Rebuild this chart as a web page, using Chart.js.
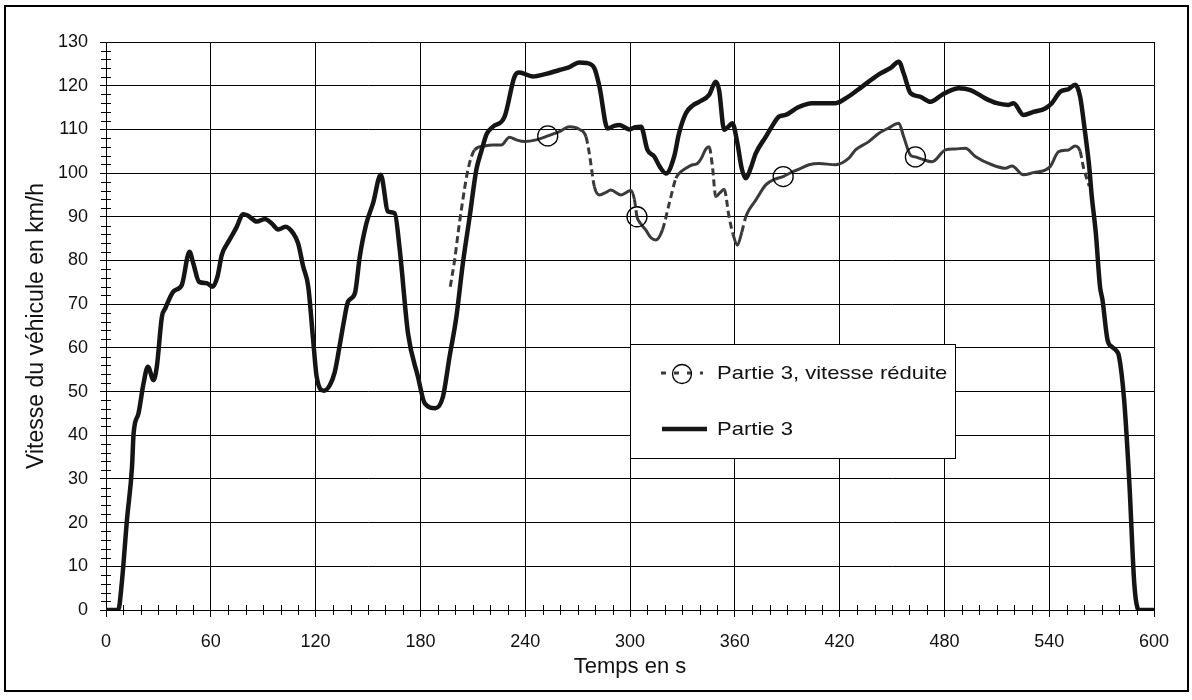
<!DOCTYPE html>
<html>
<head>
<meta charset="utf-8">
<script src="https://cdn.jsdelivr.net/npm/chart.js@4"></script>
<style>
  html, body { margin: 0; padding: 0; background: #fff; }
  #wrap { width: 1192px; height: 700px; position: relative; }
</style>
</head>
<body>
<div id="wrap"><canvas id="myChart" width="1192" height="700"></canvas></div>
<script>
// Partie 3 (solid)
const timeFull = [0, 7, 9, 12, 14.9, 15.8, 18.6, 21.5, 24, 27.2, 29.1, 32, 33.9, 38.6, 43.4, 47.8, 50, 53.3, 57.7, 61.1,
  63.8, 66.3, 70.1, 74.5, 78.6, 81.5, 86.3, 91, 94.8, 98.6, 102.8, 107.2, 110, 112.9, 115.8, 118.6, 120.6, 124.7, 128.2, 131,
  134, 136, 138.6, 142.5, 145.3, 149.1, 152.9, 157.3, 161.5, 165.3, 168.2, 172.9, 178.6, 182.5, 188.7, 192.9, 196.7, 200.6, 204.3, 208.2,
  212, 214.9, 218, 221.5, 228.2, 233.9, 236.7, 244.3, 252, 259.6, 265, 271, 275, 279.6, 282.5, 287.2, 291, 294, 299.6, 303,
  306.3, 310, 313.9, 317, 320.6, 325.3, 328, 332, 336, 339.6, 345.3, 349.1, 351, 353.9, 356, 358.6, 361.5, 364, 366.3, 369,
  372, 377.7, 381, 385.3, 389.1, 396, 404.3, 417.7, 425, 432.9, 442.5, 449, 453.9, 456.7, 460.6, 466, 472, 478.6, 484, 488.2,
  494.9, 503.4, 510, 516.7, 519.6, 525.3, 531, 537.7, 541.5, 546.3, 551, 554.9, 557.7, 560.6, 562.9, 564.3, 566.7, 569.1, 570.5, 573.4,
  576, 578.1, 580, 582.9, 585.9, 588.7, 590.5, 591.6, 600];
const speedFull = [0, 0, 6, 20.6, 32.8, 40.4, 45, 51.9, 55.7, 52.6, 55.7, 67.1, 69, 72.9, 74.4, 82, 79.3, 75.1, 74.8, 74,
  76.3, 81.3, 84.3, 87.4, 90.6, 90.2, 88.9, 89.5, 88.5, 87.1, 87.7, 86.2, 83.9, 78.6, 74, 61.8, 53.4, 50.2, 51.5, 54.5,
  61, 65.6, 70.6, 72.5, 80.9, 88.5, 93.1, 99.6, 91.2, 90.8, 82.4, 63.3, 53.4, 47.3, 46.2, 48.8, 58, 67.1, 79.3, 90,
  100.7, 105, 109, 110.6, 112.9, 122.1, 123, 122.1, 122.7, 123.6, 124.2, 125.3, 125.2, 124, 119.8, 110.2, 110.8, 111, 110, 110.5,
  110.6, 105.3, 103.8, 101.5, 99.9, 103.8, 109, 113.7, 115.5, 116.3, 117.9, 120.9, 119, 109.9, 110.5, 111.4, 106.8, 101, 98.8, 101,
  104.5, 108.3, 110.5, 112.9, 113.3, 115, 116, 116, 117.5, 119.8, 122.6, 124, 125.5, 122.8, 118.3, 117.5, 116.3, 117.9, 119, 119.4,
  119, 117.1, 116, 115.6, 116, 113.3, 114, 114.8, 116, 118.6, 119.2, 120.2, 117.5, 109.1, 101.5, 95, 86.2, 74, 71, 61.8,
  60.2, 59.5, 58, 48.1, 29, 6.1, 0.5, 0, 0];

// Partie 3, vitesse réduite (dashed, circle markers)
const timeReduced = [197.1, 199.6, 201.5, 203.4, 207.2, 211, 216.7, 221.5, 226.3, 231, 234.9, 239.6, 246.3, 252.9, 259.6, 265.3, 271, 274.8, 276.7, 279.6,
  282.5, 286, 289, 294.8, 300.5, 302.5, 304, 306, 309, 312, 314.8, 318.6, 322.5, 326.3, 328.1, 332, 335.8, 338.6, 341, 343.4,
  345.3, 347.2, 349.1, 351.5, 353.9, 356.7, 359, 361.5, 364, 366.3, 368.2, 372, 377.7, 383, 387.7, 393, 396.8, 402.5, 408.2, 417.7,
  425.3, 429.1, 436.7, 442.5, 448, 453.9, 456.7, 460.6, 463.4, 467, 473, 480.6, 486, 492, 497.7, 507.2, 514.9, 518.7, 525.3, 531,
  537.7, 540.6, 545.4, 551.1, 554.9, 557.7, 559.5, 562.9];
const speedReduced = [74, 80.1, 86, 91.5, 100.7, 105.3, 106.2, 106.4, 106.4, 108.2, 107.6, 107.2, 107.6, 108.5, 109.5, 110.6, 110, 108.3, 104.5, 96.9,
  95, 95.5, 96.1, 95, 96, 94, 90, 88.5, 87, 85.2, 84.7, 87, 93.1, 98.8, 99.9, 101.1, 101.9, 102.2, 103.5, 105.5,
  106, 101.5, 94.6, 95.5, 96.3, 90, 86, 83.5, 86.5, 90, 91.6, 93.8, 97.3, 98.6, 99.2, 100.3, 100.9, 101.9, 102.2, 101.9,
  103.4, 105.3, 107.2, 109.1, 110.3, 111.4, 108.3, 104.1, 103.7, 103.2, 102.6, 105.3, 105.5, 105.7, 103.8, 101.9, 101.1, 101.6, 99.6, 100.1,
  100.7, 101.5, 104.9, 105.3, 106.2, 105, 101.5, 97];
const markerTimes = [252.9, 304, 387.7, 463.4];

const xTicks = [0, 60, 120, 180, 240, 300, 360, 420, 480, 540, 600];
const yTicks = [0, 10, 20, 30, 40, 50, 60, 70, 80, 90, 100, 110, 120, 130];

const FONT = 'Arial, "Liberation Sans", sans-serif';

function steep(ctx) {
  const dt = ctx.p1.parsed.x - ctx.p0.parsed.x;
  const dv = ctx.p1.parsed.y - ctx.p0.parsed.y;
  return Math.abs(dv / dt) > 1.2;
}

const frame = {
  id: 'frame',
  beforeDraw(chart) {
    const c = chart.ctx;
    c.save();
    c.fillStyle = '#fff';
    c.fillRect(0, 0, chart.width, chart.height);
    c.restore();
  },
  afterDraw(chart) {
    const c = chart.ctx;
    const xs = chart.scales.x, ys = chart.scales.y;
    const ca = chart.chartArea;
    c.save();
    // minor ticks crossing the axes
    c.strokeStyle = '#000';
    c.lineWidth = 1;
    c.beginPath();
    for (let t = 0; t <= 600; t += 10) {
      if (t % 60 === 0) continue;
      const px = Math.round(xs.getPixelForValue(t)) + 0.5;
      c.moveTo(px, ca.bottom - 5);
      c.lineTo(px, ca.bottom + 5);
    }
    for (let v = 0; v <= 130; v += 2) {
      if (v % 10 === 0) continue;
      const py = Math.round(ys.getPixelForValue(v)) + 0.5;
      c.moveTo(ca.left - 5, py);
      c.lineTo(ca.left + 5, py);
    }
    c.stroke();

    // legend
    const lx = 630.5, ly = 344.5, lw = 325, lh = 114;
    c.fillStyle = '#fff';
    c.fillRect(lx, ly, lw, lh);
    c.strokeStyle = '#000';
    c.lineWidth = 1;
    c.strokeRect(lx, ly, lw, lh);

    const dsR = chart.data.datasets[0];
    const dsF = chart.data.datasets[1];
    c.strokeStyle = dsR.borderColor;
    c.lineWidth = dsR.borderWidth;
    c.setLineDash([5, 8]);
    c.beginPath();
    c.moveTo(661, 373);
    c.lineTo(703, 373);
    c.stroke();
    c.setLineDash([]);
    c.strokeStyle = '#000';
    c.lineWidth = 1.3;
    c.beginPath();
    c.arc(682, 374, 9.5, 0, Math.PI * 2);
    c.stroke();

    c.strokeStyle = dsF.borderColor;
    c.lineWidth = dsF.borderWidth;
    c.beginPath();
    c.moveTo(662, 429);
    c.lineTo(707, 429);
    c.stroke();

    // text is a little wider than tall in the reference
    c.fillStyle = '#111';
    c.font = '19px ' + FONT;
    c.textBaseline = 'middle';
    c.textAlign = 'left';
    c.save();
    c.translate(717, 0);
    c.scale(1.16, 1);
    c.fillText('Partie 3, vitesse réduite', 0, 374);
    c.fillText('Partie 3', 0, 430);
    c.restore();

    // outer frame
    c.strokeStyle = '#000';
    c.lineWidth = 2;
    c.strokeRect(5, 6, 1183, 685);
    c.restore();
  }
};

const ctx = document.getElementById('myChart').getContext('2d');
new Chart(ctx, {
  type: 'line',
  data: {
    datasets: [{
      label: 'Partie 3, vitesse réduite',
      data: timeReduced.map((t, i) => ({ x: t, y: speedReduced[i] })),
      borderColor: '#3a3a3a',
      borderWidth: 3,
      cubicInterpolationMode: 'monotone',
      pointRadius: c => (c.raw && markerTimes.includes(c.raw.x)) ? 10 : 0,
      pointBorderColor: '#000',
      pointBorderWidth: 1.3,
      pointBackgroundColor: 'rgba(0,0,0,0)',
      segment: {
        borderDash: c => steep(c) ? [7, 4] : undefined
      },
      order: 2
    }, {
      label: 'Partie 3',
      data: timeFull.map((t, i) => ({ x: t, y: speedFull[i] })),
      borderColor: '#151515',
      borderWidth: 4.5,
      cubicInterpolationMode: 'monotone',
      pointRadius: 0,
      order: 1
    }]
  },
  options: {
    responsive: false,
    animation: false,
    layout: { padding: { left: 0, top: 42, right: 38, bottom: 0 } },
    plugins: {
      legend: { display: false },
      tooltip: { enabled: false }
    },
    scales: {
      x: {
        type: 'linear',
        min: 0, max: 600,
        afterBuildTicks: s => { s.ticks = xTicks.map(v => ({ value: v })); },
        afterFit: s => { s.height = 90; },
        ticks: { color: '#111', font: { family: FONT, size: 18 }, padding: 14, maxRotation: 0 },
        grid: { color: '#000', lineWidth: 1, tickLength: 7, tickColor: '#000' },
        border: { color: '#000', width: 1 },
        title: { display: true, text: 'Temps en s', color: '#111', font: { family: FONT, size: 22 }, padding: { top: 0, bottom: 20 } }
      },
      y: {
        type: 'linear',
        min: 0, max: 130,
        afterBuildTicks: s => { s.ticks = yTicks.map(v => ({ value: v })); },
        afterFit: s => { s.width = 106; },
        ticks: { color: '#111', font: { family: FONT, size: 18 }, padding: 12 },
        grid: { color: '#000', lineWidth: 1, tickLength: 6, tickColor: '#000' },
        border: { color: '#000', width: 1 },
        title: { display: true, text: 'Vitesse du véhicule en km/h', color: '#111', font: { family: FONT, size: 23 }, padding: { top: 23, bottom: 0 } }
      }
    }
  },
  plugins: [frame]
});
</script>
</body>
</html>
